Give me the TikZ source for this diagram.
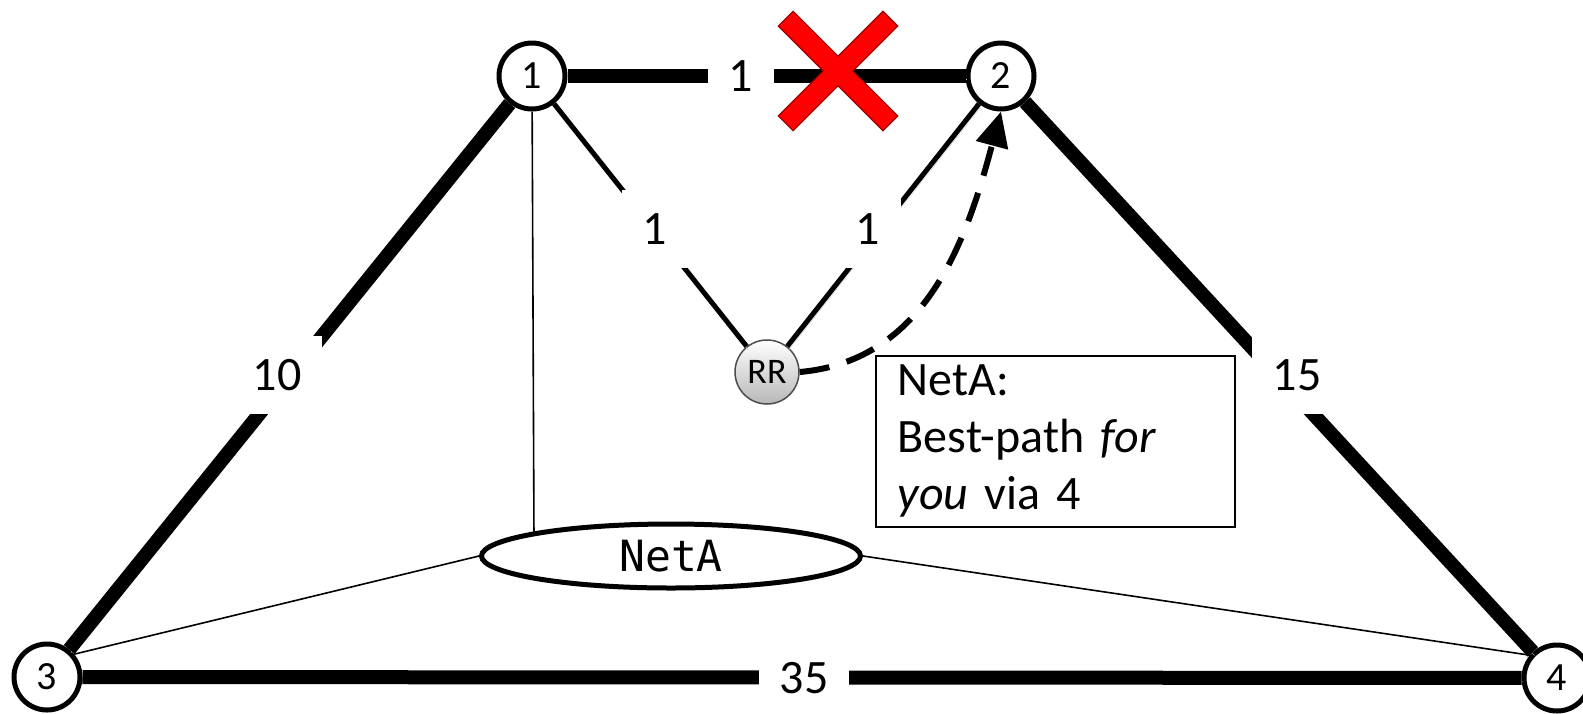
\documentclass[tikz,border=0pt]{standalone}
\usepackage{fontspec}
\setmainfont{Carlito}
\setmonofont{DejaVu Sans Mono}
\usetikzlibrary{arrows.meta,shapes.geometric}

\begin{document}
\begin{tikzpicture}[x=1pt,y=1pt,
  router/.style={circle, draw, line width=5pt, fill=white, minimum size=66pt,
    inner sep=0pt, font=\fontsize{40}{40}\selectfont},
  shadowed/.style={preaction={draw=black!18, transform canvas={shift={(1.5pt,-3.5pt)}}}},
  trunk/.style={line width=14pt, shadowed},
  spoke/.style={line width=5pt, shadowed},
  wire/.style={line width=1.6pt},
  cost/.style={fill=white, inner xsep=21pt, inner ysep=0pt, minimum height=78pt,
    font=\fontsize{48}{48}\selectfont},
  advert/.style={line width=6pt, dash pattern=on 30pt off 18pt,
    -{Triangle[length=35pt,width=32pt]}},
]
\fill[white] (0,0) rectangle (1583,-713);
\useasboundingbox (0,0) rectangle (1583,-713);

% routers, route reflector and the prefix
\node[router] (n1) at (532,-76) {1};
\node[router] (n2) at (1001,-76) {2};
\node[router] (n3) at (47,-677) {3};
\node[router] (n4) at (1557,-678) {4};
\node[circle, draw=black!70, line width=1.5pt, minimum size=64pt, inner sep=0pt,
  top color=white, bottom color=black!28, font=\fontsize{36}{36}\selectfont]
  (rr) at (767,-372) {RR};
\node[ellipse, draw, line width=5pt, fill=white, minimum width=379pt, minimum height=64pt,
  inner sep=0pt, font=\ttfamily\fontsize{43}{43}\selectfont] (neta) at (671,-556) {NetA};

% physical links
\draw[trunk] (n1) -- (n2);
\draw[trunk] (n1) -- (n3);
\draw[trunk] (n2) -- (n4);
\draw[trunk] (n3) -- (n4);

% sessions to the reflector
\draw[spoke] (n1) -- (rr);
\draw[spoke] (n2) -- (rr);

% prefix attachment
\draw[wire] (n1) -- (neta.170);
\draw[wire] (n3.40) -- (neta.west);
\draw[wire] (neta.east) -- (n4.140);

% link costs
\node[cost] (c12) at (741,-76) {1};
\node[cost] (c1r) at (655,-229) {1};
\node[cost] (c2r) at (868,-229) {1};
\node[cost] (c13) at (277,-375) {10};
\node[cost] (c24) at (1297,-375) {15};
\node[cost] (c34) at (804,-678) {35};

% advertisement from the reflector
\draw[advert] (rr.east) to[out=5,in=-105] (n2.south);

\node[draw, line width=1.5pt, fill=white, anchor=north west, minimum width=359pt,
  minimum height=171pt, text width=315pt, align=left, inner xsep=22pt, inner ysep=0pt,
  font=\fontsize{48}{57}\selectfont] (note) at (875,-355)
  {NetA:\\Best-path \textit{for}\\\textit{you} via 4};

% failed link marker
\begin{scope}[shift={(838,-71)}, rotate=45]
  \filldraw[fill=red, draw=red!60!black, line width=1.2pt]
    (74,10.5) -- (10.5,10.5) -- (10.5,74) -- (-10.5,74) -- (-10.5,10.5) -- (-74,10.5)
    -- (-74,-10.5) -- (-10.5,-10.5) -- (-10.5,-74) -- (10.5,-74) -- (10.5,-10.5)
    -- (74,-10.5) -- cycle;
\end{scope}
\end{tikzpicture}
\end{document}
